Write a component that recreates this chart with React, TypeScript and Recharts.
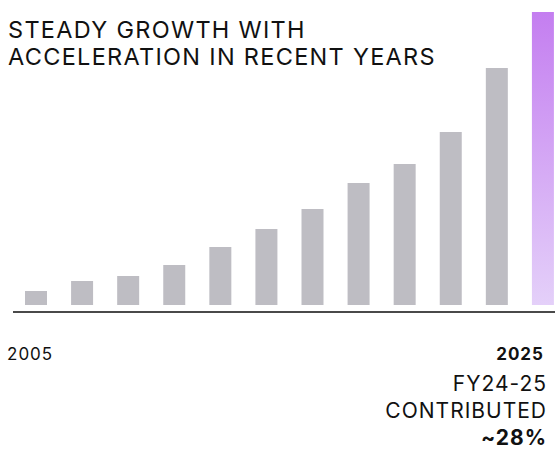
import React from 'react';
import { BarChart, Bar, XAxis, YAxis, Cell } from 'recharts';

// growth index per period (relative)
const periods = ['2005', '2007', '2009', '2011', '2013', '2015', '2017', '2019', '2021', '2023', '2024', '2025'];
const values = [14, 24, 29, 40, 58, 76, 96, 122, 141, 173, 237, 293];
const titleLines = ['STEADY GROWTH WITH', 'ACCELERATION IN RECENT YEARS'];
const noteLines = ['FY24-25', 'CONTRIBUTED', '~28%'];

const data = periods.map((p, i) => ({ period: p, value: values[i] }));

const FONT = 'Inter, "Noto Sans", sans-serif';

const EdgeTick = (props: any) => {
  const { x, y, index, payload } = props;
  const last = periods.length - 1;
  if (index !== 0 && index !== last) return null;
  const isLast = index === last;
  return (
    <text
      x={isLast ? x + 1 : x - 29}
      y={y + 40}
      textAnchor={isLast ? 'end' : 'start'}
      fill="#111"
      fontSize={17}
      fontWeight={isLast ? 700 : 400}
      letterSpacing={1}
      fontFamily={FONT}
    >
      {payload.value}
    </text>
  );
};

export default function App() {
  return (
    <div
      style={{
        position: 'absolute',
        left: 0,
        top: 0,
        width: 555,
        height: 449,
        overflow: 'hidden',
        background: '#fff',
        fontFamily: FONT,
        color: '#111',
      }}
    >
      <div style={{ position: 'absolute', left: 0, top: 0 }}>
        <BarChart width={566} height={449} data={data} margin={{ top: 12, right: 0, bottom: 0, left: 13 }}>
          <defs>
            <linearGradient id="hl" x1="0" y1="0" x2="0" y2="1">
              <stop offset="0%" stopColor="#c47ef0" />
              <stop offset="100%" stopColor="#e4d0f9" />
            </linearGradient>
          </defs>
          <YAxis hide domain={[-7, 293]} />
          <XAxis
            dataKey="period"
            height={137}
            interval={0}
            tickLine={false}
            axisLine={{ stroke: '#4a4a4a', strokeWidth: 2 }}
            tick={<EdgeTick />}
          />
          <Bar dataKey="value" barSize={22} isAnimationActive={false}>
            {data.map((d, i) => (
              <Cell key={d.period} fill={i === data.length - 1 ? 'url(#hl)' : '#bebdc3'} />
            ))}
          </Bar>
        </BarChart>
      </div>

      <div
        style={{
          position: 'absolute',
          left: 8,
          top: 16,
          fontSize: 23.5,
          lineHeight: '27px',
          letterSpacing: 1.3,
          whiteSpace: 'nowrap',
        }}
      >
        {titleLines.map((l) => (
          <div key={l}>{l}</div>
        ))}
      </div>

      <div
        style={{
          position: 'absolute',
          right: 8,
          top: 370,
          fontSize: 21,
          lineHeight: '27px',
          letterSpacing: 1,
          textAlign: 'right',
          whiteSpace: 'nowrap',
        }}
      >
        {noteLines.map((l, i) => (
          <div key={l} style={{ fontWeight: i === noteLines.length - 1 ? 700 : 400 }}>
            {l}
          </div>
        ))}
      </div>
    </div>
  );
}
